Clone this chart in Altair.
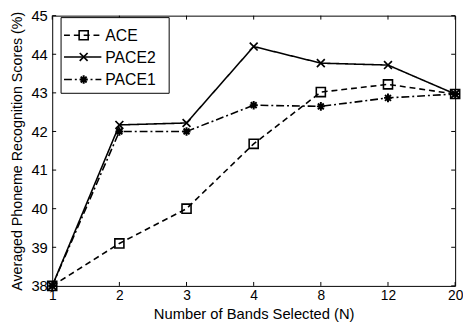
import altair as alt
import pandas as pd

bands = ["1", "2", "3", "4", "8", "12", "20"]
ace = [38.0, 39.1, 40.0, 41.68, 43.02, 43.22, 42.97]
pace2 = [38.0, 42.17, 42.22, 44.2, 43.77, 43.72, 42.97]
pace1 = [38.0, 42.0, 42.0, 42.68, 42.65, 42.87, 42.97]
series_names = ["ACE", "PACE2", "PACE1"]
y_ticks = [38, 39, 40, 41, 42, 43, 44, 45]

W, H = 410, 275
FONT = "Liberation Sans"

rows = []
for name, vals in zip(series_names, [ace, pace2, pace1]):
    for b, v in zip(bands, vals):
        rows.append({"N": b, "score": v, "series": name})
df = pd.DataFrame(rows)

X_PATH = "M-1,-1L1,1M-1,1L1,-1"
STAR_PATH = "M-1,0L1,0M0,-1.1L0,1.1M-0.75,-0.75L0.75,0.75M-0.75,0.75L0.75,-0.75"

styles = {
    "ACE": dict(dash=[6, 4], shape="square", size=85, sw=1.6),
    "PACE2": dict(dash=[1, 0], shape=X_PATH, size=64, sw=1.7),
    "PACE1": dict(dash=[8, 3, 2, 3], shape=STAR_PATH, size=64, sw=2.0),
}

xscale = alt.Scale(type="point", padding=0, domain=bands)
yscale = alt.Scale(domain=[38, 45], nice=False, zero=False)

x_axis = alt.Axis(
    title="Number of Bands Selected (N)", labelAngle=0, ticks=False, domain=False,
    grid=False, labelFontSize=14, labelPadding=3, labelColor="black",
    titleFontSize=15, titleFontWeight="normal", titleColor="black",
    titleBaseline="alphabetic", titleY=33,
    labelFont=FONT, titleFont=FONT,
)
y_axis = alt.Axis(
    title="Averaged Phoneme Recognition Scores (%)", ticks=False, domain=False,
    grid=False, values=y_ticks, labelFontSize=15, labelPadding=5, labelColor="black",
    titleFontSize=14.5, titleFontWeight="normal", titleColor="black",
    titleBaseline="alphabetic", titleX=-31, titleY=H / 2,
    labelFont=FONT, titleFont=FONT,
)

def ex(field="N"):
    return alt.X(f"{field}:O", scale=xscale, sort=bands, axis=x_axis)

def ey(field="score"):
    return alt.Y(f"{field}:Q", scale=yscale, axis=y_axis)

layers = []
for name in series_names:
    st = styles[name]
    base = alt.Chart(df).transform_filter(alt.datum.series == name)
    line = base.mark_line(color="black", strokeWidth=1.6, strokeDash=st["dash"]).encode(
        x=ex(), y=ey()
    )
    pts = base.mark_point(
        shape=st["shape"], size=st["size"], filled=False, stroke="black",
        strokeWidth=st["sw"], opacity=1,
    ).encode(x=ex(), y=ey())
    layers += [line, pts]

# inward tick marks (MATLAB style)
tick_x = pd.DataFrame({"N": bands})
tick_y = pd.DataFrame({"score": y_ticks})
layers.append(alt.Chart(tick_x).mark_rule(color="black", strokeWidth=1).encode(
    x=ex(), y=alt.value(H - 4), y2=alt.value(H)))
layers.append(alt.Chart(tick_x).mark_rule(color="black", strokeWidth=1).encode(
    x=ex(), y=alt.value(0), y2=alt.value(4)))
layers.append(alt.Chart(tick_y).mark_rule(color="black", strokeWidth=1).encode(
    y=ey(), x=alt.value(0), x2=alt.value(4)))
layers.append(alt.Chart(tick_y).mark_rule(color="black", strokeWidth=1).encode(
    y=ey(), x=alt.value(W - 4), x2=alt.value(W)))

# legend box
leg_df = pd.DataFrame({"series": series_names})
layers.append(alt.Chart(leg_df).transform_filter(alt.datum.series == "ACE").mark_rect(
    fill="white", stroke="black", strokeWidth=1).encode(
    x=alt.value(9), x2=alt.value(119), y=alt.value(2), y2=alt.value(79)))
row_y = {"ACE": 20, "PACE2": 42, "PACE1": 65}
for name in series_names:
    st = styles[name]
    lb = alt.Chart(leg_df).transform_filter(alt.datum.series == name)
    layers.append(lb.mark_rule(color="black", strokeWidth=1.6, strokeDash=st["dash"]).encode(
        x=alt.value(12), x2=alt.value(50), y=alt.value(row_y[name])))
    layers.append(lb.mark_point(shape=st["shape"], size=st["size"], filled=False,
                                stroke="black", strokeWidth=st["sw"], opacity=1).encode(
        x=alt.value(32), y=alt.value(row_y[name])))
    layers.append(lb.mark_text(align="left", baseline="middle", fontSize=16, font=FONT,
                               color="black").encode(
        x=alt.value(54), y=alt.value(row_y[name] + 1), text="series:N"))

chart = alt.layer(*layers).properties(
    width=W, height=H,
    autosize=alt.AutoSizeParams(type="none"),
    padding={"left": 45, "top": 5, "right": 8, "bottom": 37},
    background="white",
).configure_view(stroke="black", strokeWidth=1)

chart.save("out.html", embed_options={"renderer": "svg", "actions": False})
